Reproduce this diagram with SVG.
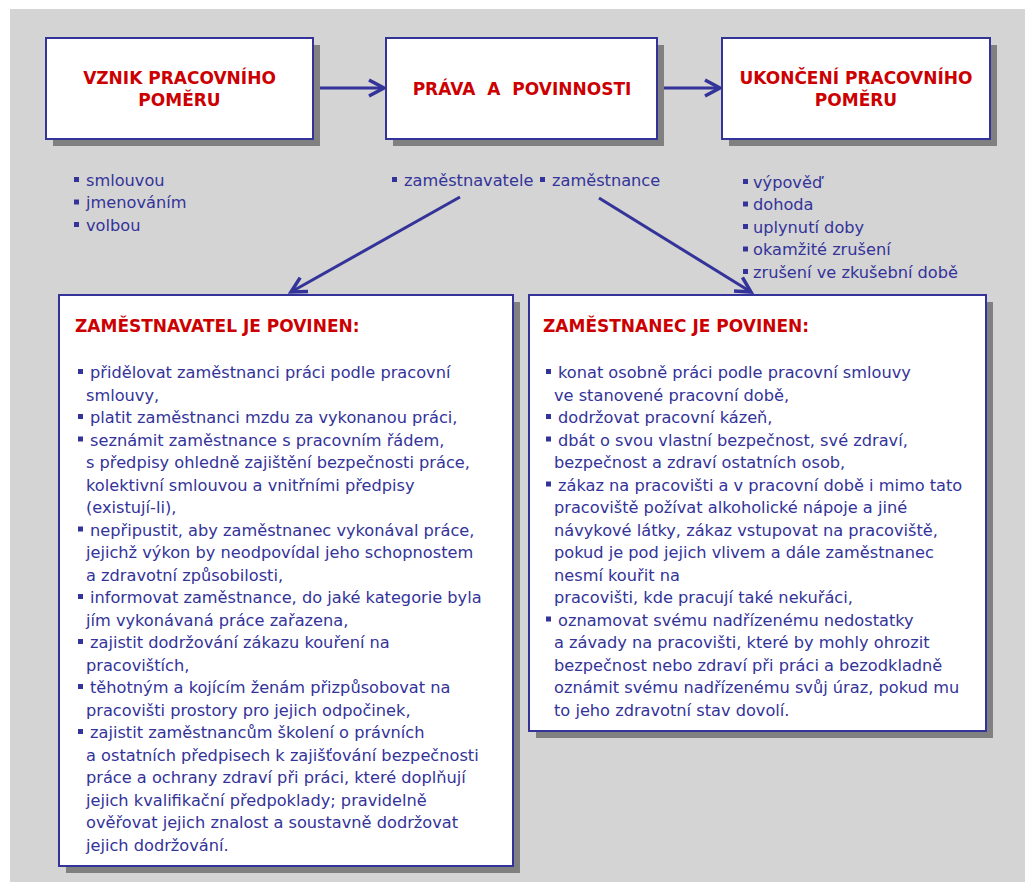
<svg xmlns="http://www.w3.org/2000/svg" width="1025" height="882" viewBox="0 0 1025 882">
<defs>
<style>
.bg{fill:#d4d4d4}
.shadow{fill:#808080}
.box{fill:#ffffff;stroke:#333399;stroke-width:2}
.title{font-family:"DejaVu Sans",Verdana,sans-serif;font-weight:bold;font-size:17px;fill:#cc0000}
.body{font-family:"DejaVu Sans",Verdana,sans-serif;font-size:16.2px;fill:#333399}
.conn{stroke:#333399;stroke-width:3;fill:none}
.bul{fill:#333399}
</style>
<marker id="arrow" markerUnits="userSpaceOnUse" markerWidth="24" markerHeight="24" viewBox="-20 -12 24 24" refX="0" refY="0" orient="auto">
<path d="M-15,-8 L0,0 L-15,8" fill="none" stroke="#333399" stroke-width="3.5" stroke-linejoin="miter"/>
</marker>
<rect id="b" width="5" height="5"/>
</defs>
<rect class="bg" x="10" y="9" width="1015" height="873"/>

<g id="connectors">
<line class="conn" x1="313" y1="88" x2="384" y2="88" marker-end="url(#arrow)"/>
<line class="conn" x1="657" y1="88" x2="720" y2="88" marker-end="url(#arrow)"/>
<line class="conn" x1="460" y1="197" x2="291" y2="292" marker-end="url(#arrow)"/>
<line class="conn" x1="599" y1="198" x2="751" y2="292" marker-end="url(#arrow)"/>
</g>

<g id="vznik">
<rect class="shadow" x="53" y="45" width="267" height="101"/>
<rect class="box" x="46" y="38" width="267" height="101"/>
<text class="title" text-anchor="middle"><tspan x="179.5" y="84">VZNIK PRACOVNÍHO</tspan><tspan x="179.5" y="106">POMĚRU</tspan></text>
</g>

<g id="prava">
<rect class="shadow" x="393" y="45" width="271" height="101"/>
<rect class="box" x="386" y="38" width="271" height="101"/>
<text class="title" text-anchor="middle" x="522" y="94.5" word-spacing="6">PRÁVA A POVINNOSTI</text>
</g>

<g id="ukonceni">
<rect class="shadow" x="729" y="45" width="268" height="101"/>
<rect class="box" x="722" y="38" width="268" height="101"/>
<text class="title" text-anchor="middle"><tspan x="856" y="84">UKONČENÍ PRACOVNÍHO</tspan><tspan x="856" y="106">POMĚRU</tspan></text>
</g>

<g id="vznik-list">
<g class="bul"><use href="#b" x="74" y="177"/><use href="#b" x="74" y="199.5"/><use href="#b" x="74" y="222"/></g>
<text class="body"><tspan x="86" y="185.5">smlouvou</tspan><tspan x="86" y="208">jmenováním</tspan><tspan x="86" y="230.5">volbou</tspan></text>
</g>

<g id="prava-list">
<g class="bul"><use href="#b" x="392" y="177"/><use href="#b" x="540" y="177"/></g>
<text class="body"><tspan x="404" y="185.5">zaměstnavatele</tspan><tspan x="552" y="185.5">zaměstnance</tspan></text>
</g>

<g id="ukonceni-list">
<g class="bul"><use href="#b" x="743" y="179"/><use href="#b" x="743" y="201.5"/><use href="#b" x="743" y="224"/><use href="#b" x="743" y="246.5"/><use href="#b" x="743" y="269"/></g>
<text class="body"><tspan x="753" y="187.5">výpověď</tspan><tspan x="753" y="210">dohoda</tspan><tspan x="753" y="232.5">uplynutí doby</tspan><tspan x="753" y="255">okamžité zrušení</tspan><tspan x="753" y="277.5">zrušení ve zkušební době</tspan></text>
</g>

<g id="zamestnavatel">
<rect class="shadow" x="66" y="302" width="454" height="571"/>
<rect class="box" x="59" y="295" width="454" height="571"/>
<text class="title" x="75" y="332">ZAMĚSTNAVATEL JE POVINEN:</text>
<g class="bul">
<use href="#b" x="78" y="369"/><use href="#b" x="78" y="414"/><use href="#b" x="78" y="436.5"/><use href="#b" x="78" y="526.5"/><use href="#b" x="78" y="594"/><use href="#b" x="78" y="639"/><use href="#b" x="78" y="684"/><use href="#b" x="78" y="729"/>
</g>
<text class="body">
<tspan x="90" y="378">přidělovat zaměstnanci práci podle pracovní</tspan>
<tspan x="86" y="400.5">smlouvy,</tspan>
<tspan x="90" y="423">platit zaměstnanci mzdu za vykonanou práci,</tspan>
<tspan x="90" y="445.5">seznámit zaměstnance s pracovním řádem,</tspan>
<tspan x="86" y="468">s předpisy ohledně zajištění bezpečnosti práce,</tspan>
<tspan x="86" y="490.5">kolektivní smlouvou a vnitřními předpisy</tspan>
<tspan x="86" y="513">(existují-li),</tspan>
<tspan x="90" y="535.5">nepřipustit, aby zaměstnanec vykonával práce,</tspan>
<tspan x="86" y="558">jejichž výkon by neodpovídal jeho schopnostem</tspan>
<tspan x="86" y="580.5">a zdravotní způsobilosti,</tspan>
<tspan x="90" y="603">informovat zaměstnance, do jaké kategorie byla</tspan>
<tspan x="86" y="625.5">jím vykonávaná práce zařazena,</tspan>
<tspan x="90" y="648">zajistit dodržování zákazu kouření na</tspan>
<tspan x="86" y="670.5">pracovištích,</tspan>
<tspan x="90" y="693">těhotným a kojícím ženám přizpůsobovat na</tspan>
<tspan x="86" y="715.5">pracovišti prostory pro jejich odpočinek,</tspan>
<tspan x="90" y="738">zajistit zaměstnancům školení o právních</tspan>
<tspan x="86" y="760.5">a ostatních předpisech k zajišťování bezpečnosti</tspan>
<tspan x="86" y="783">práce a ochrany zdraví při práci, které doplňují</tspan>
<tspan x="86" y="805.5">jejich kvalifikační předpoklady; pravidelně</tspan>
<tspan x="86" y="828">ověřovat jejich znalost a soustavně dodržovat</tspan>
<tspan x="86" y="850.5">jejich dodržování.</tspan>
</text>
</g>

<g id="zamestnanec">
<rect class="shadow" x="536" y="302" width="457" height="436"/>
<rect class="box" x="529" y="295" width="457" height="436"/>
<text class="title" x="543" y="332">ZAMĚSTNANEC JE POVINEN:</text>
<g class="bul">
<use href="#b" x="546" y="369"/><use href="#b" x="546" y="414"/><use href="#b" x="546" y="436.5"/><use href="#b" x="546" y="481.5"/><use href="#b" x="546" y="616.5"/>
</g>
<text class="body">
<tspan x="558" y="378">konat osobně práci podle pracovní smlouvy</tspan>
<tspan x="554" y="400.5">ve stanovené pracovní době,</tspan>
<tspan x="558" y="423">dodržovat pracovní kázeň,</tspan>
<tspan x="558" y="445.5">dbát o svou vlastní bezpečnost, své zdraví,</tspan>
<tspan x="554" y="468">bezpečnost a zdraví ostatních osob,</tspan>
<tspan x="558" y="490.5">zákaz na pracovišti a v pracovní době i mimo tato</tspan>
<tspan x="554" y="513">pracoviště požívat alkoholické nápoje a jiné</tspan>
<tspan x="554" y="535.5">návykové látky, zákaz vstupovat na pracoviště,</tspan>
<tspan x="554" y="558">pokud je pod jejich vlivem a dále zaměstnanec</tspan>
<tspan x="554" y="580.5">nesmí kouřit na</tspan>
<tspan x="554" y="603">pracovišti, kde pracují také nekuřáci,</tspan>
<tspan x="558" y="625.5">oznamovat svému nadřízenému nedostatky</tspan>
<tspan x="554" y="648">a závady na pracovišti, které by mohly ohrozit</tspan>
<tspan x="554" y="670.5">bezpečnost nebo zdraví při práci a bezodkladně</tspan>
<tspan x="554" y="693">oznámit svému nadřízenému svůj úraz, pokud mu</tspan>
<tspan x="554" y="715.5">to jeho zdravotní stav dovolí.</tspan>
</text>
</g>
</svg>
